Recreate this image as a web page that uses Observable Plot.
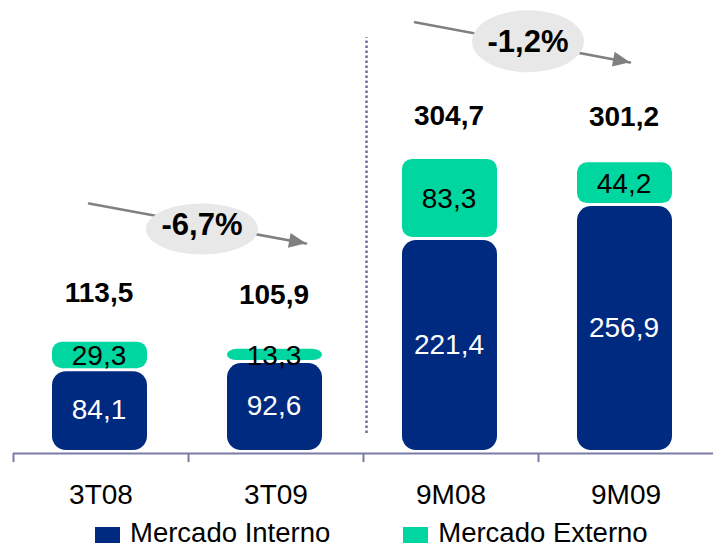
<!DOCTYPE html>
<html>
<head>
<meta charset="utf-8">
<script src="https://cdn.jsdelivr.net/npm/d3@7"></script>
<script src="https://cdn.jsdelivr.net/npm/@observablehq/plot@0.6"></script>
<style>
  html, body { margin: 0; padding: 0; background: #fff; }
  body { width: 713px; height: 547px; overflow: hidden; font-family: "Liberation Sans", Arial, sans-serif; }
  #legend { height: 29px; display: flex; align-items: center; padding-left: 95px; font-size: 27.5px; line-height: 1; color: #000; }
  .sw { width: 25px; height: 16px; margin-right: 10px; margin-top: 4px; }
  .item { display: flex; align-items: center; }
</style>
</head>
<body>
<div id="chart"></div>
<div id="legend"></div>
<script>
// ---- data ----
const categories = ["3T08", "3T09", "9M08", "9M09"];
const interno = [84.1, 92.6, 221.4, 256.9];
const externo = [29.3, 13.3, 83.3, 44.2];
const totals = [113.5, 105.9, 304.7, 301.2];
const seriesNames = ["Mercado Interno", "Mercado Externo"];
const seriesColors = ["#002a80", "#00d6a0"];
// change annotations (values in chart units)
const changeLabels = ["-6,7%", "-1,2%"];
const changeFrom = ["3T08", "9M08"];
const changeTo = ["3T09", "9M09"];
const changeY1 = [256.3, 441.2];
const changeY2 = [222.5, 407.0];
const changeTipY = [216.8, 406.3];
const changeLabelY = [235.6, 427.2];
const changeOvalY = [231.9, 428.3];

const fmt = v => v.toFixed(1).replace(".", ",");

const rows = categories.map((c, i) => ({
  cat: c,
  interno: interno[i],
  externo: externo[i],
  total: totals[i]
}));
const segInt = rows.map(r => ({cat: r.cat, y1: 0, y2: r.interno, v: r.interno}));
const segExt = rows.map(r => ({cat: r.cat, y1: r.interno, y2: r.interno + r.externo, v: r.externo}));

const W = 713, H = 518, ML = 13, MR = 0, MB = 68, MT = 0;
const bw = (W - ML - MR) / categories.length;
const FONT = "Liberation Sans, Arial, sans-serif";
const axisColor = "#7b7ba6";
const totalOffsets = [-49, -54, -43, -46];

const ellipse = (rx, ry) => ({
  draw(ctx) {
    const k = 0.5523;
    ctx.moveTo(rx, 0);
    ctx.bezierCurveTo(rx, k * ry, k * rx, ry, 0, ry);
    ctx.bezierCurveTo(-k * rx, ry, -rx, k * ry, -rx, 0);
    ctx.bezierCurveTo(-rx, -k * ry, -k * rx, -ry, 0, -ry);
    ctx.bezierCurveTo(k * rx, -ry, rx, -k * ry, rx, 0);
    ctx.closePath();
  }
});
const head = {
  draw(ctx) {
    ctx.moveTo(0, 0);
    ctx.lineTo(-17, -7.5);
    ctx.lineTo(-17, 7.5);
    ctx.closePath();
  }
};

const annLayout = [
  {insetStart: -12.2, insetEnd: -30.5, tipDx: 30, ovalDx: 101, rx: 56, ry: 25.5, angle: 10.4},
  {insetStart: -36.6, insetEnd: -4.1, tipDx: 4, ovalDx: 77, rx: 56, ry: 31, angle: 10.5}
];

const annMarks = changeLabels.flatMap((lab, i) => {
  const L = annLayout[i];
  const d = [{from: changeFrom[i], to: changeTo[i], y1: changeY1[i], y2: changeY2[i], tip: changeTipY[i], ly: changeLabelY[i], oy: changeOvalY[i], label: lab}];
  return [
    Plot.arrow(d, {x1: "from", x2: "to", y1: "y1", y2: "y2", stroke: "#808080", strokeWidth: 2.5, headLength: 0, insetStart: L.insetStart, insetEnd: L.insetEnd}),
    Plot.dot(d, {x: "from", y: "oy", dx: L.ovalDx, symbol: ellipse(L.rx, L.ry), fill: "#e8e8e8", stroke: "none"}),
    Plot.dot(d, {x: "to", y: "tip", dx: L.tipDx, symbol: head, fill: "#808080", stroke: "none", rotate: L.angle}),
    Plot.text(d, {x: "from", y: "ly", dx: L.ovalDx, text: "label", fontSize: 31, fontWeight: "bold", fill: "#000"})
  ];
});

const totalMarks = rows.map((r, i) =>
  Plot.text([r], {x: "cat", y: "total", text: d => fmt(d.total), dy: totalOffsets[i], fontSize: 28, fontWeight: "bold", fill: "#000", dx: -2})
);

const chart = Plot.plot({
  width: W,
  height: H,
  marginLeft: ML,
  marginRight: MR,
  marginTop: MT,
  marginBottom: MB,
  style: {fontFamily: FONT, background: "#fff"},
  x: {domain: categories, padding: 0, label: null},
  y: {domain: [0, 471], axis: null},
  marks: [
    Plot.barY(segInt, {x: "cat", y1: "y1", y2: "y2", fill: seriesColors[0], insetLeft: 39, insetRight: 41, insetTop: 1.5, rx: 14}),
    Plot.barY(segExt, {x: "cat", y1: "y1", y2: "y2", fill: seriesColors[1], insetLeft: 39, insetRight: 41, insetBottom: 1.5, rx: 10}),
    Plot.text(segInt, {x: "cat", y: d => (d.y1 + d.y2) / 2, text: d => fmt(d.v), fill: "#fff", fontSize: 28, dx: -2}),
    Plot.text(segExt, {x: "cat", y: d => (d.y1 + d.y2) / 2, text: d => fmt(d.v), fill: "#000", fontSize: 28, dx: -2}),
    ...totalMarks,
    // axis line and boundary ticks
    Plot.ruleY([0], {dy: 3, stroke: axisColor, strokeWidth: 2}),
    Plot.ruleX(categories, {x: d => d, y1: 0, y2: -9.5, dx: -bw / 2, dy: 3, stroke: axisColor, strokeWidth: 2}),
    // dotted separator
    Plot.ruleX(["9M08"], {x: d => d, y1: 17.8, y2: 432, dx: -bw / 2 + 3, stroke: "#6d6d9c", strokeWidth: 2.5, strokeDasharray: "2.5,2.5"}),
    Plot.axisX({tickSize: 0, tickPadding: 34, fontSize: 28, fill: "#000", label: null}),
    ...annMarks
  ]
});
document.getElementById("chart").appendChild(chart);

const legend = document.getElementById("legend");
seriesNames.forEach((name, i) => {
  const it = document.createElement("div");
  it.className = "item";
  if (i > 0) it.style.marginLeft = "73px";
  const sw = document.createElement("div");
  sw.className = "sw";
  sw.style.background = seriesColors[i];
  const t = document.createElement("span");
  t.textContent = name;
  it.appendChild(sw);
  it.appendChild(t);
  legend.appendChild(it);
});
</script>
</body>
</html>
